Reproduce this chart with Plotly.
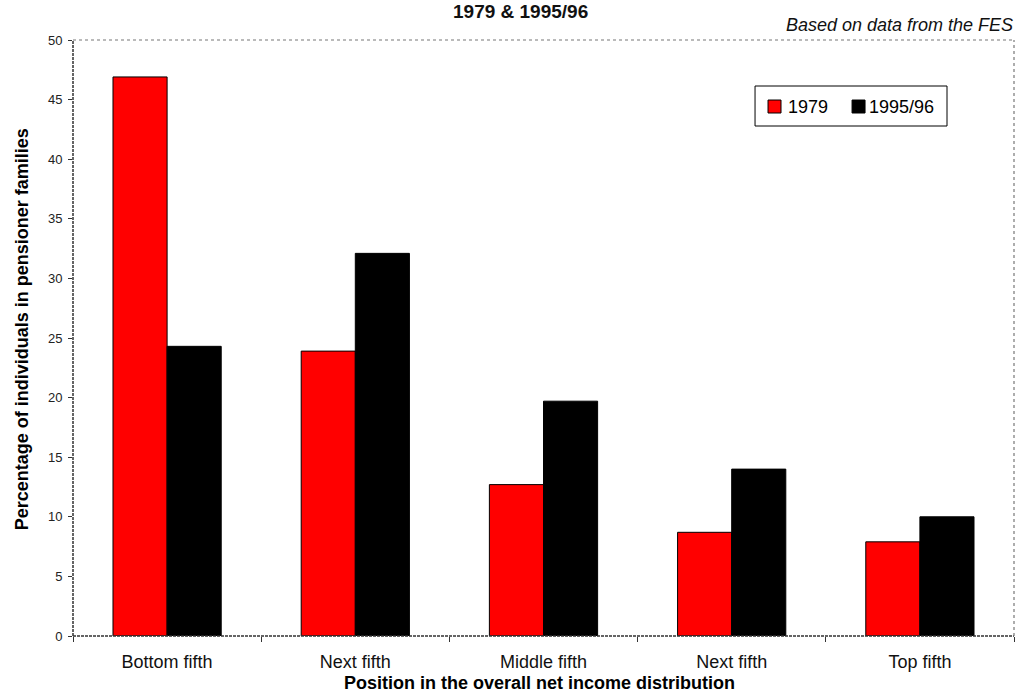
import plotly.graph_objects as go

categories = ["Bottom fifth", "Next fifth", "Middle fifth", "Next fifth ", "Top fifth"]
tick_labels = ["Bottom fifth", "Next fifth", "Middle fifth", "Next fifth", "Top fifth"]
series_names = ["1979", "1995/96"]
values_1979 = [46.9, 23.9, 12.7, 8.7, 7.9]
values_1995 = [24.3, 32.1, 19.7, 14.0, 10.0]
y_ticks = [0, 5, 10, 15, 20, 25, 30, 35, 40, 45, 50]
colors = ["#ff0000", "#000000"]

fig = go.Figure()
for name, vals, col in zip(series_names, [values_1979, values_1995], colors):
    fig.add_trace(go.Bar(name=name, x=categories, y=vals, showlegend=False,
                         marker=dict(color=col, line=dict(color="black", width=1))))

font = "Arial, Liberation Sans, sans-serif"

# manual legend (box, swatches, labels) in paper coordinates
legend_box = dict(type="rect", xref="paper", yref="paper", x0=0.7248, x1=0.9288,
                  y0=0.8557, y1=0.9228, line=dict(color="black", width=1), fillcolor="white")
sw_x = [(0.7386, 0.7524), (0.8279, 0.8417)]
txt_x = [0.7575, 0.8435]
legend_shapes = [legend_box]
legend_ann = []
for (a, b), tx, name, col in zip(sw_x, txt_x, series_names, colors):
    legend_shapes.append(dict(type="rect", xref="paper", yref="paper", x0=a, x1=b,
                              y0=0.8775, y1=0.8993, fillcolor=col,
                              line=dict(color="black", width=1)))
    legend_ann.append(dict(text=name, xref="paper", yref="paper", x=tx, y=0.8884,
                           xanchor="left", yanchor="middle", showarrow=False,
                           font=dict(size=18, color="black")))

fig.update_layout(
    width=1019, height=695,
    margin=dict(l=73, r=5, t=40, b=59),
    paper_bgcolor="white", plot_bgcolor="white",
    barmode="group", bargap=0.425, bargroupgap=0,
    font=dict(family=font, color="black"),
    showlegend=False,
    xaxis=dict(tickvals=categories, ticktext=tick_labels, tickson="boundaries",
               ticks="outside", ticklen=5, tickcolor="#333", ticklabelstandoff=13,
               tickfont=dict(size=18, color="#111"),
               showline=False, showgrid=False, zeroline=False),
    yaxis=dict(range=[0, 50], tickvals=y_ticks, ticks="outside", ticklen=4, tickcolor="#333",
               ticklabelstandoff=3,
               tickfont=dict(size=13, color="#222"), showgrid=False, zeroline=False, showline=False),
    shapes=[
        dict(type="line", xref="paper", yref="paper", x0=0, x1=0, y0=0, y1=1,
             line=dict(color="#333", width=1.5, dash="3px,1px")),
        dict(type="line", xref="paper", yref="paper", x0=0, x1=1, y0=0, y1=0,
             line=dict(color="#333", width=1.5, dash="3px,1px")),
        dict(type="line", xref="paper", yref="paper", x0=0, x1=1, y0=1, y1=1,
             line=dict(color="#777", width=1.2, dash="dot")),
        dict(type="line", xref="paper", yref="paper", x0=1, x1=1, y0=0, y1=1,
             line=dict(color="#777", width=1.2, dash="dot")),
    ] + legend_shapes,
    annotations=[
        dict(text="<b>1979 & 1995/96</b>", xref="paper", yref="paper", x=0.476, y=1.047,
             xanchor="center", yanchor="middle", showarrow=False,
             font=dict(size=19, color="#111")),
        dict(text="<i>Based on data from the FES</i>", xref="paper", yref="paper", x=1.001, y=1.026,
             xanchor="right", yanchor="middle", showarrow=False,
             font=dict(size=18, color="#111")),
        dict(text="<b>Percentage of individuals in pensioner families</b>", xref="paper",
             yref="paper", x=-0.054, y=0.515, xanchor="center", yanchor="middle",
             textangle=-90, showarrow=False, font=dict(size=18, color="black")),
        dict(text="<b>Position in the overall net income distribution</b>", xref="paper",
             yref="paper", x=0.496, y=-0.0789, xanchor="center", yanchor="middle",
             showarrow=False, font=dict(size=18, color="black")),
    ] + legend_ann,
)
fig.write_html("out.html")
